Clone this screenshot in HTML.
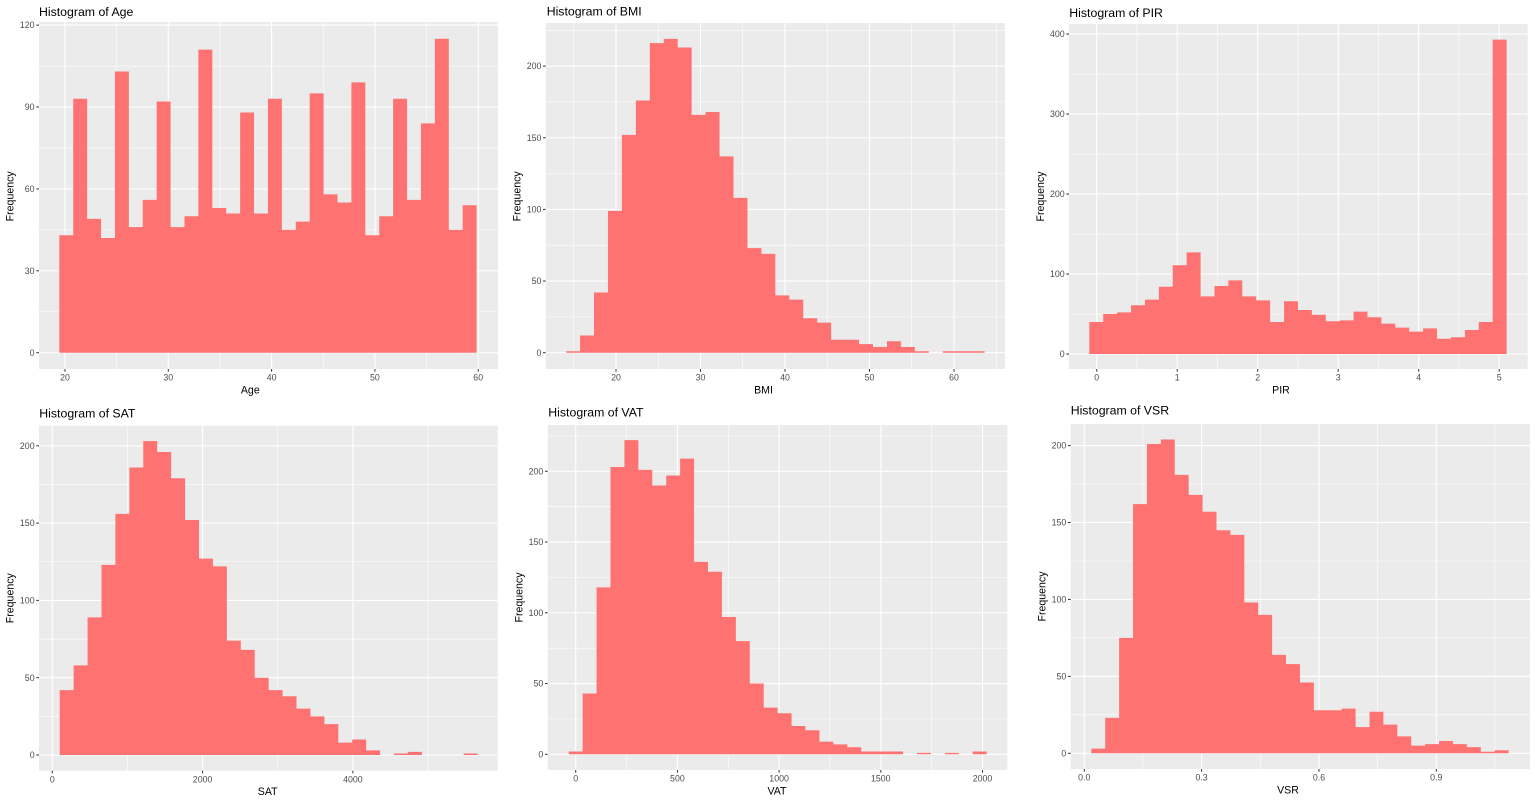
<!DOCTYPE html>
<html>
<head>
<meta charset="utf-8">
<style>
  html, body { margin:0; padding:0; background:#ffffff; }
  svg { display:block; }
  text { font-family: "Liberation Sans", Arial, sans-serif; }
  .title { font-size:12.3px; fill:#000; }
  .tick { font-size:8.8px; fill:#4d4d4d; }
  .axt { font-size:10.6px; fill:#000; }
  .bg { fill:#ebebeb; }
  .mj { stroke:#ffffff; stroke-width:1.1; }
  .mn { stroke:#ffffff; stroke-width:0.55; }
  .tk { stroke:#333333; stroke-width:1; }
  .bar { fill:#ff7272; }
</style>
</head>
<body>
<svg width="1535" height="801" viewBox="0 0 1535 801" xmlns="http://www.w3.org/2000/svg">
<rect x="0" y="0" width="1535" height="801" fill="#ffffff"/>

<!-- ============ Panel A: Age ============ -->
<rect class="bg" x="39" y="22" width="459" height="347"/>
<g class="mn">
  <line x1="39" x2="498" y1="311.75" y2="311.75"/>
  <line x1="39" x2="498" y1="229.85" y2="229.85"/>
  <line x1="39" x2="498" y1="147.95" y2="147.95"/>
  <line x1="39" x2="498" y1="66.05" y2="66.05"/>
  <line y1="22" y2="369" x1="116.65" x2="116.65"/>
  <line y1="22" y2="369" x1="219.95" x2="219.95"/>
  <line y1="22" y2="369" x1="323.25" x2="323.25"/>
  <line y1="22" y2="369" x1="426.55" x2="426.55"/>
</g>
<g class="mj">
  <line x1="39" x2="498" y1="352.7" y2="352.7"/>
  <line x1="39" x2="498" y1="270.8" y2="270.8"/>
  <line x1="39" x2="498" y1="188.9" y2="188.9"/>
  <line x1="39" x2="498" y1="107" y2="107"/>
  <line x1="39" x2="498" y1="25.1" y2="25.1"/>
  <line y1="22" y2="369" x1="65" x2="65"/>
  <line y1="22" y2="369" x1="168.3" x2="168.3"/>
  <line y1="22" y2="369" x1="271.6" x2="271.6"/>
  <line y1="22" y2="369" x1="374.9" x2="374.9"/>
  <line y1="22" y2="369" x1="478.2" x2="478.2"/>
</g>
<path class="bar" transform="translate(59.3,352.7) scale(13.91,-2.73)"
 d="M0,0 V43 H1 V93 H2 V49 H3 V42 H4 V103 H5 V46 H6 V56 H7 V92 H8 V46 H9 V50 H10 V111 H11 V53 H12 V51 H13 V88 H14 V51 H15 V93 H16 V45 H17 V48 H18 V95 H19 V58 H20 V55 H21 V99 H22 V43 H23 V50 H24 V93 H25 V56 H26 V84 H27 V115 H28 V45 H29 V54 H30 V0 Z"/>
<g class="tk">
  <line x1="36.3" x2="39" y1="352.7" y2="352.7"/>
  <line x1="36.3" x2="39" y1="270.8" y2="270.8"/>
  <line x1="36.3" x2="39" y1="188.9" y2="188.9"/>
  <line x1="36.3" x2="39" y1="107" y2="107"/>
  <line x1="36.3" x2="39" y1="25.1" y2="25.1"/>
  <line y1="369" y2="371.7" x1="65" x2="65"/>
  <line y1="369" y2="371.7" x1="168.3" x2="168.3"/>
  <line y1="369" y2="371.7" x1="271.6" x2="271.6"/>
  <line y1="369" y2="371.7" x1="374.9" x2="374.9"/>
  <line y1="369" y2="371.7" x1="478.2" x2="478.2"/>
</g>
<g class="tick" text-anchor="end">
  <text x="34.5" y="355.8">0</text>
  <text x="34.5" y="273.9">30</text>
  <text x="34.5" y="192">60</text>
  <text x="34.5" y="110.1">90</text>
  <text x="34.5" y="28.2">120</text>
</g>
<g class="tick" text-anchor="middle">
  <text x="65" y="380.5">20</text>
  <text x="168.3" y="380.5">30</text>
  <text x="271.6" y="380.5">40</text>
  <text x="374.9" y="380.5">50</text>
  <text x="478.2" y="380.5">60</text>
</g>
<text class="title" x="39" y="15.8">Histogram of Age</text>
<text class="axt" x="250.3" y="393.5" text-anchor="middle">Age</text>
<text class="axt" transform="translate(13.5,196.3) rotate(-90)" text-anchor="middle">Frequency</text>

<!-- ============ Panel B: BMI ============ -->
<rect class="bg" x="545.7" y="23" width="459.3" height="346"/>
<g class="mn">
  <line x1="545.7" x2="1005" y1="316.9" y2="316.9"/>
  <line x1="545.7" x2="1005" y1="245.2" y2="245.2"/>
  <line x1="545.7" x2="1005" y1="173.6" y2="173.6"/>
  <line x1="545.7" x2="1005" y1="101.9" y2="101.9"/>
  <line x1="545.7" x2="1005" y1="30.3" y2="30.3"/>
  <line y1="23" y2="369" x1="573.75" x2="573.75"/>
  <line y1="23" y2="369" x1="658.25" x2="658.25"/>
  <line y1="23" y2="369" x1="742.75" x2="742.75"/>
  <line y1="23" y2="369" x1="827.25" x2="827.25"/>
  <line y1="23" y2="369" x1="911.75" x2="911.75"/>
  <line y1="23" y2="369" x1="996.25" x2="996.25"/>
</g>
<g class="mj">
  <line x1="545.7" x2="1005" y1="352.7" y2="352.7"/>
  <line x1="545.7" x2="1005" y1="281.05" y2="281.05"/>
  <line x1="545.7" x2="1005" y1="209.4" y2="209.4"/>
  <line x1="545.7" x2="1005" y1="137.75" y2="137.75"/>
  <line x1="545.7" x2="1005" y1="66.1" y2="66.1"/>
  <line y1="23" y2="369" x1="616" x2="616"/>
  <line y1="23" y2="369" x1="700.5" x2="700.5"/>
  <line y1="23" y2="369" x1="785" x2="785"/>
  <line y1="23" y2="369" x1="869.5" x2="869.5"/>
  <line y1="23" y2="369" x1="954" x2="954"/>
</g>
<path class="bar" transform="translate(566.1,352.7) scale(13.95,-1.433)"
 d="M0,0 V1 H1 V12 H2 V42 H3 V99 H4 V152 H5 V176 H6 V216 H7 V219 H8 V213 H9 V166 H10 V168 H11 V137 H12 V108 H13 V73 H14 V69 H15 V40 H16 V37 H17 V24 H18 V21 H19 V9 H20 V9 H21 V6 H22 V4 H23 V8 H24 V4 H25 V1 H26 V0 H27 V1 H28 V1 H29 V1 H30 V0 Z"/>
<g class="tk">
  <line x1="543" x2="545.7" y1="352.7" y2="352.7"/>
  <line x1="543" x2="545.7" y1="281.05" y2="281.05"/>
  <line x1="543" x2="545.7" y1="209.4" y2="209.4"/>
  <line x1="543" x2="545.7" y1="137.75" y2="137.75"/>
  <line x1="543" x2="545.7" y1="66.1" y2="66.1"/>
  <line y1="369" y2="371.7" x1="616" x2="616"/>
  <line y1="369" y2="371.7" x1="700.5" x2="700.5"/>
  <line y1="369" y2="371.7" x1="785" x2="785"/>
  <line y1="369" y2="371.7" x1="869.5" x2="869.5"/>
  <line y1="369" y2="371.7" x1="954" x2="954"/>
</g>
<g class="tick" text-anchor="end">
  <text x="541.4" y="355.8">0</text>
  <text x="541.4" y="284.15">50</text>
  <text x="541.4" y="212.5">100</text>
  <text x="541.4" y="140.85">150</text>
  <text x="541.4" y="69.2">200</text>
</g>
<g class="tick" text-anchor="middle">
  <text x="616" y="380.5">20</text>
  <text x="700.5" y="380.5">30</text>
  <text x="785" y="380.5">40</text>
  <text x="869.5" y="380.5">50</text>
  <text x="954" y="380.5">60</text>
</g>
<text class="title" x="546.7" y="15.6">Histogram of BMI</text>
<text class="axt" x="763.5" y="393.5" text-anchor="middle">BMI</text>
<text class="axt" transform="translate(520.5,196.3) rotate(-90)" text-anchor="middle">Frequency</text>

<!-- ============ Panel C: PIR ============ -->
<rect class="bg" x="1069" y="24" width="458.7" height="345"/>
<g class="mn">
  <line x1="1069" x2="1527.7" y1="314" y2="314"/>
  <line x1="1069" x2="1527.7" y1="234" y2="234"/>
  <line x1="1069" x2="1527.7" y1="154" y2="154"/>
  <line x1="1069" x2="1527.7" y1="74" y2="74"/>
  <line y1="24" y2="369" x1="1136.95" x2="1136.95"/>
  <line y1="24" y2="369" x1="1217.45" x2="1217.45"/>
  <line y1="24" y2="369" x1="1297.95" x2="1297.95"/>
  <line y1="24" y2="369" x1="1378.45" x2="1378.45"/>
  <line y1="24" y2="369" x1="1458.95" x2="1458.95"/>
</g>
<g class="mj">
  <line x1="1069" x2="1527.7" y1="354" y2="354"/>
  <line x1="1069" x2="1527.7" y1="274" y2="274"/>
  <line x1="1069" x2="1527.7" y1="194" y2="194"/>
  <line x1="1069" x2="1527.7" y1="114" y2="114"/>
  <line x1="1069" x2="1527.7" y1="34" y2="34"/>
  <line y1="24" y2="369" x1="1096.7" x2="1096.7"/>
  <line y1="24" y2="369" x1="1177.2" x2="1177.2"/>
  <line y1="24" y2="369" x1="1257.7" x2="1257.7"/>
  <line y1="24" y2="369" x1="1338.2" x2="1338.2"/>
  <line y1="24" y2="369" x1="1418.7" x2="1418.7"/>
  <line y1="24" y2="369" x1="1499.2" x2="1499.2"/>
</g>
<path class="bar" transform="translate(1089.3,354) scale(13.91,-0.8)"
 d="M0,0 V40 H1 V50 H2 V52 H3 V61 H4 V68 H5 V84 H6 V111 H7 V127 H8 V72 H9 V85 H10 V92 H11 V72 H12 V67 H13 V40 H14 V66 H15 V55 H16 V49 H17 V41 H18 V42 H19 V53 H20 V46 H21 V38 H22 V33 H23 V28 H24 V32 H25 V19 H26 V21 H27 V30 H28 V40 H29 V393 H30 V0 Z"/>
<g class="tk">
  <line x1="1066.3" x2="1069" y1="354" y2="354"/>
  <line x1="1066.3" x2="1069" y1="274" y2="274"/>
  <line x1="1066.3" x2="1069" y1="194" y2="194"/>
  <line x1="1066.3" x2="1069" y1="114" y2="114"/>
  <line x1="1066.3" x2="1069" y1="34" y2="34"/>
  <line y1="369" y2="371.7" x1="1096.7" x2="1096.7"/>
  <line y1="369" y2="371.7" x1="1177.2" x2="1177.2"/>
  <line y1="369" y2="371.7" x1="1257.7" x2="1257.7"/>
  <line y1="369" y2="371.7" x1="1338.2" x2="1338.2"/>
  <line y1="369" y2="371.7" x1="1418.7" x2="1418.7"/>
  <line y1="369" y2="371.7" x1="1499.2" x2="1499.2"/>
</g>
<g class="tick" text-anchor="end">
  <text x="1064.7" y="357.1">0</text>
  <text x="1064.7" y="277.1">100</text>
  <text x="1064.7" y="197.1">200</text>
  <text x="1064.7" y="117.1">300</text>
  <text x="1064.7" y="37.1">400</text>
</g>
<g class="tick" text-anchor="middle">
  <text x="1096.7" y="380.5">0</text>
  <text x="1177.2" y="380.5">1</text>
  <text x="1257.7" y="380.5">2</text>
  <text x="1338.2" y="380.5">3</text>
  <text x="1418.7" y="380.5">4</text>
  <text x="1499.2" y="380.5">5</text>
</g>
<text class="title" x="1069.3" y="17">Histogram of PIR</text>
<text class="axt" x="1281" y="393.5" text-anchor="middle">PIR</text>
<text class="axt" transform="translate(1043.8,196.5) rotate(-90)" text-anchor="middle">Frequency</text>

<!-- ============ Panel D: SAT ============ -->
<rect class="bg" x="39" y="425.7" width="458.7" height="345"/>
<g class="mn">
  <line x1="39" x2="497.7" y1="716.35" y2="716.35"/>
  <line x1="39" x2="497.7" y1="639.05" y2="639.05"/>
  <line x1="39" x2="497.7" y1="561.75" y2="561.75"/>
  <line x1="39" x2="497.7" y1="484.45" y2="484.45"/>
  <line y1="425.7" y2="770.7" x1="127.45" x2="127.45"/>
  <line y1="425.7" y2="770.7" x1="277.75" x2="277.75"/>
  <line y1="425.7" y2="770.7" x1="428.05" x2="428.05"/>
</g>
<g class="mj">
  <line x1="39" x2="497.7" y1="755" y2="755"/>
  <line x1="39" x2="497.7" y1="677.7" y2="677.7"/>
  <line x1="39" x2="497.7" y1="600.4" y2="600.4"/>
  <line x1="39" x2="497.7" y1="523.1" y2="523.1"/>
  <line x1="39" x2="497.7" y1="445.8" y2="445.8"/>
  <line y1="425.7" y2="770.7" x1="52.3" x2="52.3"/>
  <line y1="425.7" y2="770.7" x1="202.6" x2="202.6"/>
  <line y1="425.7" y2="770.7" x1="352.9" x2="352.9"/>
</g>
<path class="bar" transform="translate(59.7,755) scale(13.93,-1.546)"
 d="M0,0 V42 H1 V58 H2 V89 H3 V123 H4 V156 H5 V186 H6 V203 H7 V196 H8 V179 H9 V152 H10 V127 H11 V122 H12 V74 H13 V68 H14 V50 H15 V42 H16 V38 H17 V30 H18 V25 H19 V20 H20 V8 H21 V10 H22 V3 H23 V0 H24 V1 H25 V2 H26 V0 H29 V1 H30 V0 Z"/>
<g class="tk">
  <line x1="36.3" x2="39" y1="755" y2="755"/>
  <line x1="36.3" x2="39" y1="677.7" y2="677.7"/>
  <line x1="36.3" x2="39" y1="600.4" y2="600.4"/>
  <line x1="36.3" x2="39" y1="523.1" y2="523.1"/>
  <line x1="36.3" x2="39" y1="445.8" y2="445.8"/>
  <line y1="770.7" y2="773.4" x1="52.3" x2="52.3"/>
  <line y1="770.7" y2="773.4" x1="202.6" x2="202.6"/>
  <line y1="770.7" y2="773.4" x1="352.9" x2="352.9"/>
</g>
<g class="tick" text-anchor="end">
  <text x="34.6" y="758.1">0</text>
  <text x="34.6" y="680.8">50</text>
  <text x="34.6" y="603.5">100</text>
  <text x="34.6" y="526.2">150</text>
  <text x="34.6" y="448.9">200</text>
</g>
<g class="tick" text-anchor="middle">
  <text x="52.3" y="782.3">0</text>
  <text x="202.6" y="782.3">2000</text>
  <text x="352.9" y="782.3">4000</text>
</g>
<text class="title" x="39.3" y="417.3">Histogram of SAT</text>
<text class="axt" x="267.7" y="795" text-anchor="middle">SAT</text>
<text class="axt" transform="translate(13.5,598.2) rotate(-90)" text-anchor="middle">Frequency</text>

<!-- ============ Panel E: VAT ============ -->
<rect class="bg" x="547.7" y="425" width="459.6" height="345"/>
<g class="mn">
  <line x1="547.7" x2="1007.3" y1="718.9" y2="718.9"/>
  <line x1="547.7" x2="1007.3" y1="648.2" y2="648.2"/>
  <line x1="547.7" x2="1007.3" y1="577.4" y2="577.4"/>
  <line x1="547.7" x2="1007.3" y1="506.7" y2="506.7"/>
  <line x1="547.7" x2="1007.3" y1="435.9" y2="435.9"/>
  <line y1="425" y2="770" x1="626.55" x2="626.55"/>
  <line y1="425" y2="770" x1="728.25" x2="728.25"/>
  <line y1="425" y2="770" x1="829.95" x2="829.95"/>
  <line y1="425" y2="770" x1="931.65" x2="931.65"/>
</g>
<g class="mj">
  <line x1="547.7" x2="1007.3" y1="754.3" y2="754.3"/>
  <line x1="547.7" x2="1007.3" y1="683.55" y2="683.55"/>
  <line x1="547.7" x2="1007.3" y1="612.8" y2="612.8"/>
  <line x1="547.7" x2="1007.3" y1="542.05" y2="542.05"/>
  <line x1="547.7" x2="1007.3" y1="471.3" y2="471.3"/>
  <line y1="425" y2="770" x1="575.7" x2="575.7"/>
  <line y1="425" y2="770" x1="677.4" x2="677.4"/>
  <line y1="425" y2="770" x1="779.1" x2="779.1"/>
  <line y1="425" y2="770" x1="880.8" x2="880.8"/>
  <line y1="425" y2="770" x1="982.5" x2="982.5"/>
</g>
<path class="bar" transform="translate(568.7,754.3) scale(13.93,-1.415)"
 d="M0,0 V2 H1 V43 H2 V118 H3 V203 H4 V222 H5 V201 H6 V190 H7 V197 H8 V209 H9 V136 H10 V129 H11 V97 H12 V80 H13 V50 H14 V33 H15 V29 H16 V20 H17 V17 H18 V9 H19 V7 H20 V5 H21 V2 H24 V0 H25 V1 H26 V0 H27 V1 H28 V0 H29 V2 H30 V0 Z"/>
<g class="tk">
  <line x1="545" x2="547.7" y1="754.3" y2="754.3"/>
  <line x1="545" x2="547.7" y1="683.55" y2="683.55"/>
  <line x1="545" x2="547.7" y1="612.8" y2="612.8"/>
  <line x1="545" x2="547.7" y1="542.05" y2="542.05"/>
  <line x1="545" x2="547.7" y1="471.3" y2="471.3"/>
  <line y1="770" y2="772.7" x1="575.7" x2="575.7"/>
  <line y1="770" y2="772.7" x1="677.4" x2="677.4"/>
  <line y1="770" y2="772.7" x1="779.1" x2="779.1"/>
  <line y1="770" y2="772.7" x1="880.8" x2="880.8"/>
  <line y1="770" y2="772.7" x1="982.5" x2="982.5"/>
</g>
<g class="tick" text-anchor="end">
  <text x="543.3" y="757.4">0</text>
  <text x="543.3" y="686.65">50</text>
  <text x="543.3" y="615.9">100</text>
  <text x="543.3" y="545.15">150</text>
  <text x="543.3" y="474.4">200</text>
</g>
<g class="tick" text-anchor="middle">
  <text x="575.7" y="781.3">0</text>
  <text x="677.4" y="781.3">500</text>
  <text x="779.1" y="781.3">1000</text>
  <text x="880.8" y="781.3">1500</text>
  <text x="982.5" y="781.3">2000</text>
</g>
<text class="title" x="548.3" y="416.3">Histogram of VAT</text>
<text class="axt" x="777" y="794.3" text-anchor="middle">VAT</text>
<text class="axt" transform="translate(522.4,597.5) rotate(-90)" text-anchor="middle">Frequency</text>

<!-- ============ Panel F: VSR ============ -->
<rect class="bg" x="1070.7" y="424" width="459.3" height="345"/>
<g class="mn">
  <line x1="1070.7" x2="1530" y1="714.8" y2="714.8"/>
  <line x1="1070.7" x2="1530" y1="637.9" y2="637.9"/>
  <line x1="1070.7" x2="1530" y1="561" y2="561"/>
  <line x1="1070.7" x2="1530" y1="484.1" y2="484.1"/>
  <line y1="424" y2="769" x1="1143" x2="1143"/>
  <line y1="424" y2="769" x1="1260.3" x2="1260.3"/>
  <line y1="424" y2="769" x1="1377.6" x2="1377.6"/>
  <line y1="424" y2="769" x1="1495" x2="1495"/>
</g>
<g class="mj">
  <line x1="1070.7" x2="1530" y1="753.3" y2="753.3"/>
  <line x1="1070.7" x2="1530" y1="676.4" y2="676.4"/>
  <line x1="1070.7" x2="1530" y1="599.45" y2="599.45"/>
  <line x1="1070.7" x2="1530" y1="522.5" y2="522.5"/>
  <line x1="1070.7" x2="1530" y1="445.6" y2="445.6"/>
  <line y1="424" y2="769" x1="1084.3" x2="1084.3"/>
  <line y1="424" y2="769" x1="1201.6" x2="1201.6"/>
  <line y1="424" y2="769" x1="1319" x2="1319"/>
  <line y1="424" y2="769" x1="1436.3" x2="1436.3"/>
</g>
<path class="bar" transform="translate(1091.3,753.3) scale(13.91,-1.5385)"
 d="M0,0 V3 H1 V23 H2 V75 H3 V162 H4 V201 H5 V204 H6 V181 H7 V168 H8 V157 H9 V145 H10 V142 H11 V98 H12 V90 H13 V64 H14 V58 H15 V46 H16 V28 H18 V29 H19 V17 H20 V27 H21 V18.6 H22 V11 H23 V5 H24 V6 H25 V8 H26 V6 H27 V4 H28 V1 H29 V2 H30 V0 Z"/>
<g class="tk">
  <line x1="1068" x2="1070.7" y1="753.3" y2="753.3"/>
  <line x1="1068" x2="1070.7" y1="676.4" y2="676.4"/>
  <line x1="1068" x2="1070.7" y1="599.45" y2="599.45"/>
  <line x1="1068" x2="1070.7" y1="522.5" y2="522.5"/>
  <line x1="1068" x2="1070.7" y1="445.6" y2="445.6"/>
  <line y1="769" y2="771.7" x1="1084.3" x2="1084.3"/>
  <line y1="769" y2="771.7" x1="1201.6" x2="1201.6"/>
  <line y1="769" y2="771.7" x1="1319" x2="1319"/>
  <line y1="769" y2="771.7" x1="1436.3" x2="1436.3"/>
</g>
<g class="tick" text-anchor="end">
  <text x="1066.3" y="756.4">0</text>
  <text x="1066.3" y="679.5">50</text>
  <text x="1066.3" y="602.55">100</text>
  <text x="1066.3" y="525.6">150</text>
  <text x="1066.3" y="448.7">200</text>
</g>
<g class="tick" text-anchor="middle">
  <text x="1084.3" y="780.4">0.0</text>
  <text x="1201.6" y="780.4">0.3</text>
  <text x="1319" y="780.4">0.6</text>
  <text x="1436.3" y="780.4">0.9</text>
</g>
<text class="title" x="1070.7" y="414.6">Histogram of VSR</text>
<text class="axt" x="1288" y="793.5" text-anchor="middle">VSR</text>
<text class="axt" transform="translate(1045.4,596.5) rotate(-90)" text-anchor="middle">Frequency</text>
</svg>
</body>
</html>
